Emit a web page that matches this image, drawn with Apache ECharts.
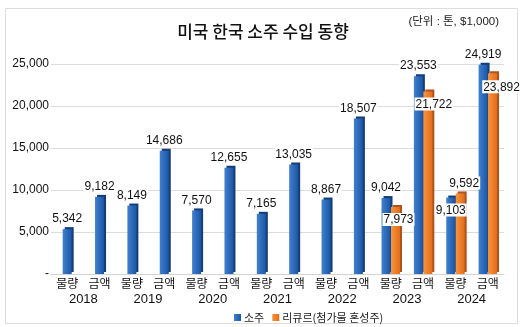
<!DOCTYPE html>
<html>
<head>
<meta charset="utf-8">
<script src="https://cdn.jsdelivr.net/npm/echarts@6/dist/echarts.min.js"></script>
<style>
html,body{margin:0;padding:0;background:#fff;}
#c{width:526px;height:327px;}
</style>
</head>
<body>
<div id="c"></div>
<script>
// ---- data ----
const categories = ['물량','금액','물량','금액','물량','금액','물량','금액','물량','금액','물량','금액','물량','금액'];
const years = ['2018','2019','2020','2021','2022','2023','2024'];
const sojuSingle = [5342, 9182, 8149, 14686, 7570, 12655, 7165, 13035, 8867, 18507, null, null, null, null];
const sojuPair   = [null, null, null, null, null, null, null, null, null, null, 9042, 23553, 9103, 24919];
const liqueur    = [null, null, null, null, null, null, null, null, null, null, 7973, 21722, 9592, 23892];
const yTicks = [0, 5000, 10000, 15000, 20000, 25000];
const seriesNames = ['소주', '리큐르(첨가물 혼성주)'];
const titleText = '미국 한국 소주 수입 동향';
const unitText = '(단위 : 톤, $1,000)';

// ---- styles ----
const narrow = '"Liberation Sans Narrow","Liberation Sans","Noto Sans CJK KR",sans-serif';
const kr = '"Noto Sans CJK KR","Liberation Sans Narrow",sans-serif';
const fmt = v => Number(v).toLocaleString('en-US');

const blueFill = new echarts.graphic.LinearGradient(0,0,1,0,[{offset:0,color:'#4080d0'},{offset:1,color:'#1b56a4'}]);
const orangeFill = new echarts.graphic.LinearGradient(0,0,1,0,[{offset:0,color:'#f8943f'},{offset:1,color:'#e26d1c'}]);
const blueStyle = {color: blueFill, shadowColor:'#143d7a', shadowBlur:0, shadowOffsetX:2, shadowOffsetY:-2};
const orangeStyle = {color: orangeFill, shadowColor:'#b0531a', shadowBlur:0, shadowOffsetX:2, shadowOffsetY:-2};

const labelBase = {show:true, position:'top', distance:4, fontFamily:narrow, fontSize:12, color:'#111',
  backgroundColor:'#fff', padding:[1,1,0,1], formatter: p => fmt(p.value)};

// per-item label placement overrides (index -> label options)
const pairLabelPlacement = {12:{position:'insideTop', distance:6}};
const liqLabelPlacement = {
  10:{position:'insideTop', distance:6, offset:[3,0]},
  11:{position:'insideTop', distance:6, offset:[6,0]},
  12:{position:'top', offset:[4,0]},
  13:{position:'insideTop', distance:7, offset:[9,0]}
};
function withLabels(arr, placement){
  return arr.map((v,i) => v == null ? null : (placement && placement[i] ? {value:v, label:placement[i]} : v));
}

const BW = 9;
const chart = echarts.init(document.getElementById('c'));
chart.setOption({
  backgroundColor:'#fff',
  animation:false,
  graphic:[
    {type:'rect', shape:{x:5.5, y:8.5, width:512, height:315}, style:{fill:'none', stroke:'#dedede', lineWidth:1}, silent:true}
  ],
  title:[
    {text:titleText, left:258, top:18, textAlign:'center', textStyle:{fontFamily:kr, fontSize:17, fontWeight:500, color:'#111'}},
    {text:unitText, right:22, top:11, textStyle:{fontFamily:narrow, fontSize:11.5, fontWeight:'normal', color:'#222'}}
  ],
  legend:{
    data:seriesNames, left:229, top:307, itemWidth:7, itemHeight:7, itemGap:8, icon:'rect',
    textStyle:{fontFamily:kr, fontSize:11, color:'#222', padding:[0,0,0,-2]}
  },
  grid:{left:51, right:22, top:64, bottom:53, containLabel:false},
  xAxis:[
    {type:'category', data:categories, gridIndex:0, position:'bottom',
     axisLine:{lineStyle:{color:'#d4d4d4'}}, axisTick:{show:false},
     axisLabel:{fontFamily:kr, fontSize:12, color:'#111', margin:3, interval:0}},
    {type:'category', data:categories, gridIndex:0, show:false},
    {type:'category', data:years, gridIndex:0, position:'bottom', offset:16,
     axisLine:{show:false}, axisTick:{show:false},
     axisLabel:{fontFamily:narrow, fontSize:13, color:'#111', margin:3, interval:0}}
  ],
  yAxis:{type:'value', min:yTicks[0], max:yTicks[yTicks.length-1], interval:yTicks[1]-yTicks[0],
    axisLine:{show:false}, axisTick:{show:false},
    splitLine:{lineStyle:{color:'#dcdcdc'}},
    axisLabel:{fontFamily:narrow, fontSize:12, color:'#111', margin:2, formatter: v => v === 0 ? '-' : fmt(v)}},
  series:[
    {name:seriesNames[0], type:'bar', xAxisIndex:0, barWidth:BW, data:withLabels(sojuSingle), itemStyle:blueStyle, label:labelBase},
    {name:seriesNames[0], type:'bar', xAxisIndex:1, barWidth:BW, barGap:'5%', data:withLabels(sojuPair, pairLabelPlacement), itemStyle:blueStyle, label:labelBase},
    {name:seriesNames[1], type:'bar', xAxisIndex:1, barWidth:BW, barGap:'5%', data:withLabels(liqueur, liqLabelPlacement), itemStyle:orangeStyle, label:labelBase}
  ]
});
</script>
</body>
</html>
